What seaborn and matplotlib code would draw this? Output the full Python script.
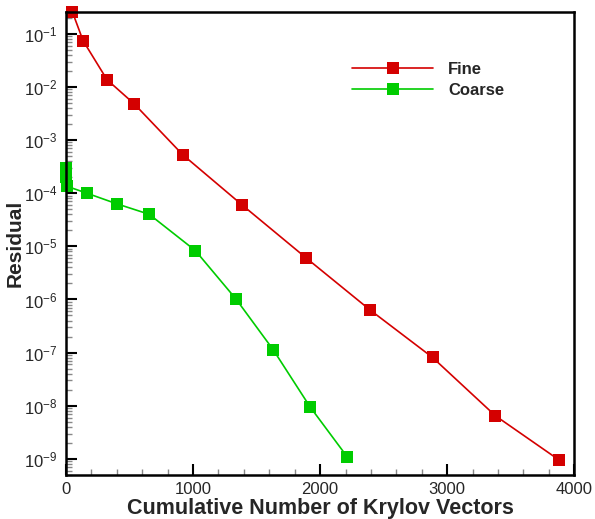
import matplotlib

matplotlib.use("Agg")
import matplotlib.pyplot as plt
import matplotlib.ticker as mticker
import numpy as np
import pandas as pd
import seaborn as sns

# Values
fine_vectors = [50, 134, 323, 536, 918, 1386, 1886, 2391, 2885, 3379, 3879]
fine_residual = [2.57e-1, 7.4e-2, 1.36e-2, 4.8e-3, 5.3e-4, 6.0e-5, 6.15e-6,
                 6.4e-7, 8.1e-8, 6.5e-9, 9.6e-10]

coarse_vectors = [0, 3, 6, 163, 400, 655, 1018, 1339, 1631, 1920, 2215]
coarse_residual = [3.0e-4, 2.0e-4, 1.35e-4, 1.0e-4, 6.3e-5, 4.0e-5, 8.3e-6,
                   1.01e-6, 1.13e-7, 9.6e-9, 1.08e-9]

series_names = ["Fine", "Coarse"]
series_colors = ["#d40000", "#00cc00"]

x_ticks = [0, 1000, 2000, 3000, 4000]
y_decades = [-9, -8, -7, -6, -5, -4, -3, -2, -1]

df = pd.concat(
    [
        pd.DataFrame({"vectors": fine_vectors, "residual": fine_residual, "grid": "Fine"}),
        pd.DataFrame({"vectors": coarse_vectors, "residual": coarse_residual, "grid": "Coarse"}),
    ],
    ignore_index=True,
)

sns.set_style("ticks")
plt.rcParams["font.family"] = ["Liberation Sans", "DejaVu Sans"]

fig = plt.figure(figsize=(5.95, 5.19), dpi=100)
ax = fig.add_axes([0.111, 0.085, 0.854, 0.892])

sns.lineplot(
    data=df,
    x="vectors",
    y="residual",
    hue="grid",
    hue_order=series_names,
    palette=series_colors,
    marker="s",
    markersize=8,
    markeredgewidth=0,
    linewidth=1.2,
    sort=False,
    ax=ax,
)
for line in ax.lines:
    line.set_clip_on(False)

ax.set_yscale("log")
ax.set_xlim(0, 4000)
ax.set_ylim(5.0e-10, 2.57e-1)

ax.set_xticks(x_ticks)
ax.set_xticklabels([str(t) for t in x_ticks])
ax.xaxis.set_minor_locator(mticker.MultipleLocator(200))

# only in-range decades, so no hidden labels hang below the axes
ax.yaxis.set_major_locator(mticker.FixedLocator([10.0**e for e in y_decades]))
ax.yaxis.set_major_formatter(mticker.LogFormatterSciNotation())
minor_y = [m * 10.0**e for e in [-10] + y_decades for m in range(2, 10)]
minor_y = [v for v in minor_y if 5.0e-10 <= v <= 2.57e-1]
ax.yaxis.set_minor_locator(mticker.FixedLocator(minor_y))
ax.yaxis.set_minor_formatter(mticker.NullFormatter())

ax.tick_params(axis="both", which="major", direction="in", length=8, width=1.5,
               labelsize=12, color="black", top=False, right=False)
ax.tick_params(axis="both", which="minor", direction="in", length=4, width=1,
               color="#888888", top=False, right=False)
ax.tick_params(axis="x", which="major", pad=5)
ax.tick_params(axis="y", which="major", pad=6)

for spine in ax.spines.values():
    spine.set_visible(True)
    spine.set_linewidth(1.8)
    spine.set_color("black")

ax.set_xlabel("Cumulative Number of Krylov Vectors", fontsize=15.5, fontweight="bold", labelpad=1)
ax.set_ylabel("Residual", fontsize=15, fontweight="bold")
ax.yaxis.set_label_coords(-0.081, 0.5)

leg = ax.legend(
    loc="upper left",
    bbox_to_anchor=(0.534, 0.924),
    frameon=False,
    fontsize=12,
    handlelength=4.85,
    handletextpad=0.9,
    labelspacing=0.35,
)
for text in leg.get_texts():
    text.set_fontweight("bold")

fig.savefig("out.png", dpi=100)
plt.close(fig)
